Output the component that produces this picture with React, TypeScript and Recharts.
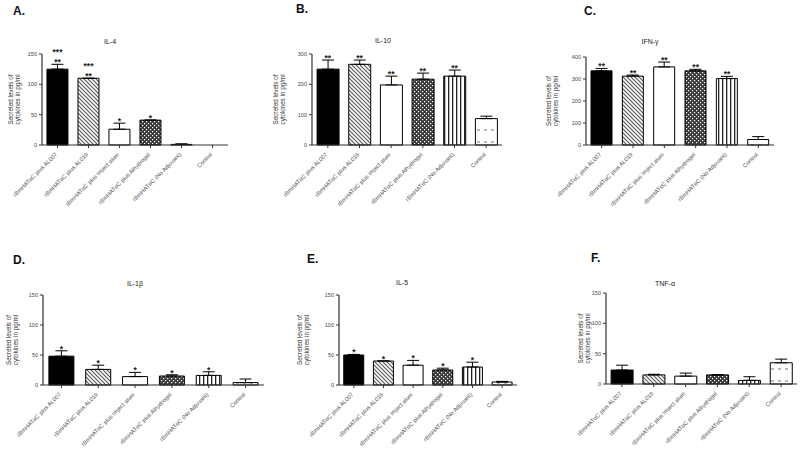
import React from 'react';
import { ComposedChart, Bar, XAxis, YAxis, ErrorBar, Scatter, Cell } from 'recharts';

const categories = [
  'rBmHATαC plus AL007',
  'rBmHATαC plus AL019',
  'rBmHATαC plus Imject alum',
  'rBmHATαC plus Alhydrogel',
  'rBmHATαC (No Adjuvant)',
  'Control',
];

const il4Values = [125, 110, 26, 41, 1, 0];
const il4Errors = [8, 0, 10, 0, 1, 0];
const il4Sig = ['***\n**', '***\n**', '*', '*', '', ''];

const il10Values = [250, 266, 198, 217, 227, 87];
const il10Errors = [30, 14, 29, 20, 20, 8];
const il10Sig = ['**', '**', '**', '**', '**', ''];

const ifnValues = [337, 313, 355, 337, 302, 25];
const ifnErrors = [11, 5, 22, 7, 10, 13];
const ifnSig = ['**', '**', '**', '**', '**', ''];

const il1bValues = [48, 26, 14, 15, 16, 4];
const il1bErrors = [9, 7, 7, 2, 6, 6];
const il1bSig = ['*', '*', '*', '*', '*', ''];

const il5Values = [50, 40, 33, 25, 30, 5];
const il5Errors = [1, 0, 8, 3, 8, 1];
const il5Sig = ['*', '*', '*', '*', '*', ''];

const tnfValues = [23, 15, 13, 15, 6, 35];
const tnfErrors = [8, 1, 5, 0, 6, 6];
const tnfSig = ['', '', '', '', '', ''];

const ticks150 = [0, 50, 100, 150];
const ticks300 = [0, 100, 200, 300];
const ticks400 = [0, 100, 200, 300, 400];

const fills = ['#000000', 'url(#pHatch)', '#ffffff', 'url(#pChecker)', 'url(#pStripe)', 'url(#pControl)'];

type Panel = {
  letter: string;
  title: string;
  values: number[];
  errors: number[];
  sig: string[];
  max: number;
  ticks: number[];
  axisX: number;
  plotTop: number;
  plotBottom: number;
  plotRight: number;
  letterX: number;
  letterY: number;
  titleX: number;
  titleY: number;
  ylabelX: number;
};

const panels: Panel[] = [
  { letter: 'A.', title: 'IL-4', values: il4Values, errors: il4Errors, sig: il4Sig, max: 150, ticks: ticks150,
    axisX: 42, plotTop: 54, plotBottom: 145, plotRight: 228, letterX: 13, letterY: 15, titleX: 110, titleY: 44, ylabelX: 16 },
  { letter: 'B.', title: 'IL-10', values: il10Values, errors: il10Errors, sig: il10Sig, max: 300, ticks: ticks300,
    axisX: 312, plotTop: 54, plotBottom: 145, plotRight: 502, letterX: 296, letterY: 13, titleX: 383, titleY: 43, ylabelX: 281 },
  { letter: 'C.', title: 'IFN-γ', values: ifnValues, errors: ifnErrors, sig: ifnSig, max: 400, ticks: ticks400,
    axisX: 586, plotTop: 57, plotBottom: 145, plotRight: 774, letterX: 584, letterY: 15, titleX: 650, titleY: 44, ylabelX: 554 },
  { letter: 'D.', title: 'IL-1β', values: il1bValues, errors: il1bErrors, sig: il1bSig, max: 150, ticks: ticks150,
    axisX: 43, plotTop: 295, plotBottom: 385, plotRight: 264, letterX: 13, letterY: 264, titleX: 135, titleY: 286, ylabelX: 14 },
  { letter: 'E.', title: 'IL-5', values: il5Values, errors: il5Errors, sig: il5Sig, max: 150, ticks: ticks150,
    axisX: 339, plotTop: 295, plotBottom: 385, plotRight: 517, letterX: 307, letterY: 263, titleX: 402, titleY: 285, ylabelX: 305 },
  { letter: 'F.', title: 'TNF-α', values: tnfValues, errors: tnfErrors, sig: tnfSig, max: 150, ticks: ticks150,
    axisX: 606, plotTop: 293, plotBottom: 384, plotRight: 797, letterX: 591, letterY: 262, titleX: 665, titleY: 286, ylabelX: 586 },
];

const Y_W = 40;
const M_TOP = 25;
const X_H = 80;
const M_RIGHT = 3;

const XTick = (props: any) => {
  const { x, y, payload } = props;
  return (
    <g transform={`translate(${x},${y + 5})`}>
      <text x={0} y={0} textAnchor="end" transform="rotate(-45)" fontSize={5.8} fill="#555">
        {payload.value}
      </text>
    </g>
  );
};

const StarShape = (props: any) => {
  const { cx, cy, payload } = props;
  if (!payload || !payload.sig) return <g />;
  const lines: string[] = String(payload.sig).split('\n');
  return (
    <g>
      {lines.map((l, i) => (
        <text
          key={i}
          x={cx}
          y={cy + 1 - (lines.length - 1 - i) * 10}
          textAnchor="middle"
          fontSize={8.5}
          fontWeight="bold"
          fill="#222"
          stroke="none"
        >
          {l}
        </text>
      ))}
    </g>
  );
};

const PanelChart = ({ p }: { p: Panel }) => {
  const data = categories.map((c, i) => ({
    name: c,
    value: p.values[i],
    errRange: [0, p.errors[i]],
    starY: p.values[i] + p.errors[i],
    sig: p.sig[i],
  }));
  const plotW = p.plotRight - p.axisX;
  const plotH = p.plotBottom - p.plotTop;
  const width = Y_W + plotW + M_RIGHT;
  const height = M_TOP + plotH + X_H;
  return (
    <div style={{ position: 'absolute', left: p.axisX - Y_W, top: p.plotTop - M_TOP, width, height }}>
      <ComposedChart
        width={width}
        height={height}
        data={data}
        margin={{ top: M_TOP, right: M_RIGHT, bottom: 0, left: 0 }}
        barCategoryGap="16%"
      >
        <XAxis
          dataKey="name"
          type="category"
          interval={0}
          height={X_H}
          tick={<XTick />}
          tickSize={3}
          tickLine={{ stroke: '#333' }}
          axisLine={{ stroke: '#333', strokeWidth: 1.2 }}
        />
        <YAxis
          type="number"
          domain={[0, p.max]}
          ticks={p.ticks}
          width={Y_W}
          tickSize={3}
          tick={{ fontSize: 5.5, fill: '#444' }}
          tickLine={{ stroke: '#333' }}
          axisLine={{ stroke: '#333', strokeWidth: 1.2 }}
        />
        <Bar dataKey="value" stroke="#000" strokeWidth={1} isAnimationActive={false}>
          {data.map((d, i) => (
            <Cell key={d.name} fill={fills[i]} />
          ))}
          <ErrorBar dataKey="errRange" width={6} stroke="#000" strokeWidth={1} direction="y" />
        </Bar>
        <Scatter dataKey="starY" shape={<StarShape />} isAnimationActive={false} />
      </ComposedChart>
    </div>
  );
};

export default function App() {
  return (
    <div
      style={{
        position: 'absolute',
        left: 0,
        top: 0,
        width: 800,
        height: 464,
        background: '#fff',
        overflow: 'hidden',
        fontFamily: '"Liberation Sans", Arial, sans-serif',
      }}
    >
      <svg width={0} height={0} style={{ position: 'absolute' }}>
        <defs>
          <pattern id="pHatch" patternUnits="userSpaceOnUse" width={4} height={4}>
            <rect width={4} height={4} fill="#fff" />
            <path d="M-1,-1 L5,5 M-1,3 L1,5 M3,-1 L5,1" stroke="#555" strokeWidth={1.1} />
          </pattern>
          <pattern id="pChecker" patternUnits="userSpaceOnUse" width={4} height={4}>
            <rect width={4} height={4} fill="#3a3a3a" />
            <rect x={0} y={0} width={1.2} height={1.2} fill="#fff" />
            <rect x={2} y={2} width={1.2} height={1.2} fill="#fff" />
          </pattern>
          <pattern id="pStripe" patternUnits="userSpaceOnUse" width={4} height={4}>
            <rect width={4} height={4} fill="#fff" />
            <rect x={0} y={0} width={1.3} height={4} fill="#222" />
          </pattern>
          <pattern id="pControl" patternUnits="userSpaceOnUse" width={14} height={12}>
            <rect width={14} height={12} fill="#fff" />
            <rect x={2} y={4} width={3} height={2} fill="#bbb" />
            <rect x={9} y={4} width={3} height={2} fill="#bbb" />
          </pattern>
        </defs>
      </svg>
      {panels.map((p) => (
        <PanelChart key={p.letter} p={p} />
      ))}
      <svg width={800} height={464} style={{ position: 'absolute', left: 0, top: 0, pointerEvents: 'none' }}>
        {panels.map((p) => {
          const cy = (p.plotTop + p.plotBottom) / 2;
          return (
            <g key={p.letter}>
              <text x={p.letterX} y={p.letterY} fontSize={12} fontWeight="bold" fill="#111">{p.letter}</text>
              <text x={p.titleX} y={p.titleY} fontSize={7} textAnchor="middle" fill="#222">{p.title}</text>
              <text transform={`translate(${p.ylabelX - 3},${cy}) rotate(-90)`} textAnchor="middle" fontSize={6.3} fill="#333">
                <tspan x={0} y={0}>Secreted levels of</tspan>
                <tspan x={0} y={7}>cytokines in pg/ml</tspan>
              </text>
            </g>
          );
        })}
      </svg>
    </div>
  );
}
